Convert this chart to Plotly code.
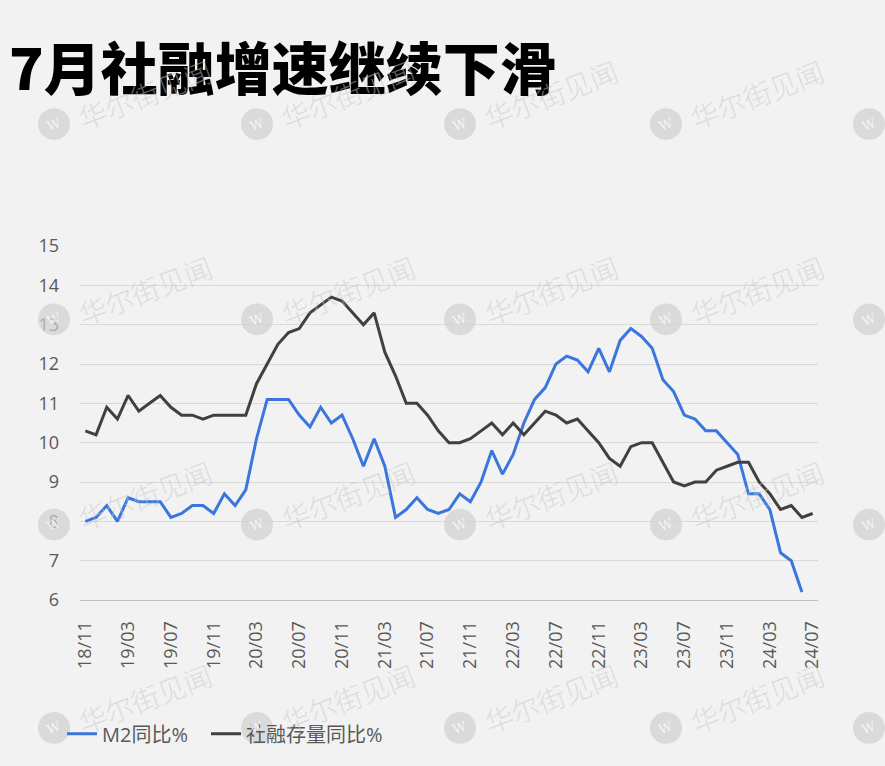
import plotly.graph_objects as go

# ---- data ----
months = []
y, m = 2018, 11
for _ in range(69):
    months.append(f"{y % 100:02d}/{m:02d}")
    m += 1
    if m > 12:
        m = 1
        y += 1

m2_yoy = [8.0, 8.1, 8.4, 8.0, 8.6, 8.5, 8.5, 8.5, 8.1, 8.2, 8.4, 8.4, 8.2, 8.7, 8.4, 8.8,
          10.1, 11.1, 11.1, 11.1, 10.7, 10.4, 10.9, 10.5, 10.7, 10.1, 9.4, 10.1, 9.4, 8.1,
          8.3, 8.6, 8.3, 8.2, 8.3, 8.7, 8.5, 9.0, 9.8, 9.2, 9.7, 10.5, 11.1, 11.4, 12.0,
          12.2, 12.1, 11.8, 12.4, 11.8, 12.6, 12.9, 12.7, 12.4, 11.6, 11.3, 10.7, 10.6,
          10.3, 10.3, 10.0, 9.7, 8.7, 8.7, 8.3, 7.2, 7.0, 6.2]

tsf_yoy = [10.3, 10.2, 10.9, 10.6, 11.2, 10.8, 11.0, 11.2, 10.9, 10.7, 10.7, 10.6, 10.7,
           10.7, 10.7, 10.7, 11.5, 12.0, 12.5, 12.8, 12.9, 13.3, 13.5, 13.7, 13.6, 13.3,
           13.0, 13.3, 12.3, 11.7, 11.0, 11.0, 10.7, 10.3, 10.0, 10.0, 10.1, 10.3, 10.5,
           10.2, 10.5, 10.2, 10.5, 10.8, 10.7, 10.5, 10.6, 10.3, 10.0, 9.6, 9.4, 9.9, 10.0,
           10.0, 9.5, 9.0, 8.9, 9.0, 9.0, 9.3, 9.4, 9.5, 9.5, 9.0, 8.7, 8.3, 8.4, 8.1, 8.2]

tick_labels = ["18/11", "19/03", "19/07", "19/11", "20/03", "20/07", "20/11", "21/03",
               "21/07", "21/11", "22/03", "22/07", "22/11", "23/03", "23/07", "23/11",
               "24/03", "24/07"]

title_text = "7月社融增速继续下滑"
series_names = ["M2同比%", "社融存量同比%"]
watermark_text = "华尔街见闻"

# ---- layout geometry (pixels) ----
W, H = 885, 766
L, R, T, B = 80, 67, 246, 163
PW, PH = W - L - R, H - T - B


def px(xp):
    return (xp - L) / PW


def py(yp):
    return (H - B - yp) / PH


fig = go.Figure()
fig.add_trace(go.Scatter(x=months[:len(m2_yoy)], y=m2_yoy, mode="lines", name=series_names[0],
                         line=dict(color="#3a76de", width=3), legend="legend"))
fig.add_trace(go.Scatter(x=months, y=tsf_yoy, mode="lines", name=series_names[1],
                         line=dict(color="#404040", width=3), legend="legend2"))

# ---- watermarks ----
annotations = []
shapes = []
wm_cols = [54, 257, 460, 666, 869]
wm_rows = [123, 320, 527, 732]
for cy in wm_rows:
    for cx in wm_cols:
        r = 16
        shapes.append(dict(type="circle", xref="paper", yref="paper",
                           x0=px(cx - r), x1=px(cx + r), y0=py(cy + r), y1=py(cy - r),
                           fillcolor="rgba(208,208,208,0.7)", line=dict(width=0),
                           layer="above"))
        annotations.append(dict(text="W", xref="paper", yref="paper", x=px(cx), y=py(cy),
                                xanchor="center", yanchor="middle",
                                showarrow=False, textangle=-20,
                                font=dict(size=13, color="rgba(248,248,248,0.9)",
                                          family="DejaVu Serif")))
        if cx < 800:
            annotations.append(dict(text=watermark_text, xref="paper", yref="paper",
                                    x=px(cx + 91), y=py(cy - 30), showarrow=False,
                                    xanchor="center", yanchor="middle",
                                    textangle=-21,
                                    font=dict(size=28, color="rgba(198,198,198,0.5)",
                                              family="Noto Sans CJK SC", weight=300)))

legend_font = dict(size=20, color="#595959", family="Open Sans, Noto Sans CJK SC")

fig.update_layout(
    width=W, height=H,
    margin=dict(l=L, r=R, t=T, b=B),
    paper_bgcolor="#f2f2f2",
    plot_bgcolor="#f2f2f2",
    font=dict(family="Open Sans, Noto Sans CJK SC", color="#595959", size=18),
    title=dict(text=title_text, xref="container", yref="container",
               x=9 / W, xanchor="left", y=1 - 70 / H, yanchor="middle",
               font=dict(family="Noto Sans CJK SC", size=57, color="#000000", weight=900)),
    showlegend=True,
    legend=dict(orientation="h", x=px(62), xanchor="left", y=py(738), yanchor="middle",
                bgcolor="rgba(0,0,0,0)", font=legend_font, itemwidth=30),
    legend2=dict(orientation="h", x=px(206), xanchor="left", y=py(738), yanchor="middle",
                 bgcolor="rgba(0,0,0,0)", font=legend_font, itemwidth=30),
    xaxis=dict(type="category", range=[-0.5, len(months) - 0.5],
               tickmode="array", tickvals=tick_labels, ticktext=tick_labels,
               tickangle=-90, showgrid=False, showline=True, linecolor="#bfbfbf",
               linewidth=1, ticks="", ticklabelstandoff=13, zeroline=False,
               tickfont=dict(size=18, color="#595959")),
    yaxis=dict(range=[6, 15], dtick=1, tick0=6, showgrid=True, gridcolor="#d9d9d9",
               gridwidth=1, zeroline=False, showline=False, ticks="",
               ticklabelstandoff=20, tickfont=dict(size=18, color="#595959")),
    shapes=shapes,
    annotations=annotations,
)

fig.write_html("out.html", config={"displayModeBar": False},
               post_script="document.body.style.margin='0px';")
